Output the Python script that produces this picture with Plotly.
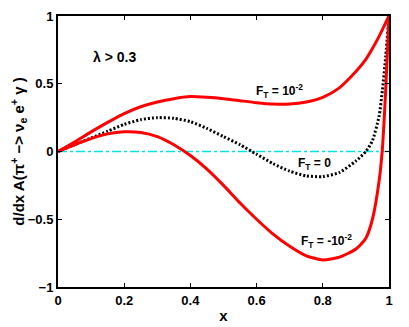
import plotly.graph_objects as go

x_vals = [0, 0.05, 0.1, 0.15, 0.2, 0.25, 0.3, 0.35, 0.4, 0.45, 0.5, 0.55, 0.6,
          0.65, 0.7, 0.75, 0.8, 0.85, 0.9, 0.93, 0.95, 0.97, 0.98, 0.99, 1.0]

ft_plus = [0, 0.07, 0.145, 0.215, 0.28, 0.33, 0.365, 0.39, 0.405, 0.40, 0.39, 0.375, 0.36,
           0.35, 0.35, 0.365, 0.40, 0.47, 0.59, 0.68, 0.76, 0.85, 0.90, 0.95, 1.0]
ft_zero = [0, 0.05, 0.10, 0.15, 0.20, 0.235, 0.25, 0.245, 0.22, 0.17, 0.11, 0.05, -0.02,
           -0.09, -0.145, -0.18, -0.185, -0.155, -0.07, 0.0, 0.08, 0.26, 0.45, 0.7, 1.0]
ft_minus = [0, 0.05, 0.095, 0.13, 0.145, 0.14, 0.11, 0.05, -0.03, -0.13, -0.25, -0.38, -0.5,
            -0.61, -0.70, -0.77, -0.80, -0.78, -0.72, -0.64, -0.50, -0.22, 0.02, 0.45, 1.0]

fam = "Liberation Sans, Arial, sans-serif"
font = dict(family=fam, size=12, color="black")
tickf = dict(family=fam, size=13, color="black", weight="bold")
annf = dict(family=fam, size=12, color="black", weight="bold")

fig = go.Figure()
fig.add_trace(go.Scatter(x=[0, 1], y=[0, 0], mode="lines",
                         line=dict(color="#00e5e5", width=1.5, dash="dashdot")))
fig.add_trace(go.Scatter(x=x_vals, y=ft_zero, mode="lines", line_shape="spline",
                         line=dict(color="black", width=3, dash="2px,2px", smoothing=0.6)))
fig.add_trace(go.Scatter(x=x_vals, y=ft_plus, mode="lines", line_shape="spline",
                         line=dict(color="#ff0000", width=3, smoothing=0.6)))
fig.add_trace(go.Scatter(x=x_vals, y=ft_minus, mode="lines", line_shape="spline",
                         line=dict(color="#ff0000", width=3, smoothing=0.6)))

labels = [
    (0.17, 0.70, "λ > 0.3", 14),
    (0.67, 0.45, "F<sub>T</sub> = 10<sup>-2</sup>", 12),
    (0.776, -0.09, "F<sub>T</sub> = 0", 12),
    (0.81, -0.66, "F<sub>T</sub> = -10<sup>-2</sup>", 12),
]
for lx, ly, txt, sz in labels:
    fig.add_annotation(x=lx, y=ly, text=txt, showarrow=False,
                       font=dict(family=fam, size=sz, color="black", weight="bold"))

fig.update_layout(
    width=401, height=319,
    margin=dict(l=50, r=20, t=8, b=40),
    paper_bgcolor="white", plot_bgcolor="white",
    showlegend=False, font=font,
    xaxis=dict(range=[0, 1], dtick=0.2, tickformat="~g", showgrid=False, zeroline=False,
               showline=True, linecolor="black", linewidth=2, mirror="ticks",
               ticks="inside", ticklen=4, tickcolor="black", automargin=False,
               tickfont=tickf,
               title=dict(text="x", font=dict(family=fam, size=15, color="black", weight="bold"),
                          standoff=4)),
    yaxis=dict(range=[-1, 1], dtick=0.5, tickformat="~g", showgrid=False, zeroline=False,
               showline=True, linecolor="black", linewidth=2, mirror="ticks",
               ticks="inside", ticklen=4, tickcolor="black", automargin=False,
               tickfont=tickf,
               title=dict(text="d/dx A(π<sup>+</sup> −> ν<sub>e</sub> e<sup>+</sup> γ )",
                          font=dict(family=fam, size=15, color="black", weight="bold"),
                          standoff=8)),
)

fig.write_html("out.html")
